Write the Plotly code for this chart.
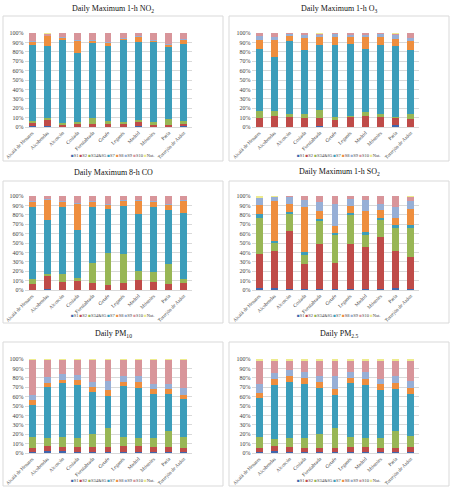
import plotly.graph_objects as go

# ---------------- data ----------------
CITIES = ["Alcalá de Henares", "Alcobendas", "Alcorcón", "Coslada", "Fuenlabrada",
          "Getafe", "Leganés", "Madrid", "Móstoles", "Parla", "Torrejón de Ardoz"]
SERIES = ["S1", "S2", "S34&S5", "S7", "S8", "S9", "S10", "Nat."]
COLORS = ["#3F66AE", "#BF4B48", "#98B655", "#3C9DBA", "#EE8E3E", "#97AFD6", "#D8959A", "#EDEB8E"]
TITLES = ["Daily Maximum 1-h NO<sub>2</sub>", "Daily Maximum 1-h O<sub>3</sub>",
          "Daily Maximum 8-h CO", "Daily Maximum 1-h SO<sub>2</sub>",
          "Daily PM<sub>10</sub>", "Daily PM<sub>2.5</sub>"]
Y_TICKS = [0, 10, 20, 30, 40, 50, 60, 70, 80, 90, 100]

# NO2
NO2_S1 = [1, 1.5, 0.5, 0.5, 0.5, 0.5, 0.5, 1, 0.5, 0.5, 1]
NO2_S2 = [3, 5.5, 2.5, 3, 2.5, 2.5, 2.5, 4.5, 2.5, 2, 3]
NO2_S345 = [2.5, 2.5, 1.5, 2, 6.5, 3, 2.5, 1.5, 2, 5.5, 2]
NO2_S7 = [80.5, 76.5, 89, 73.5, 80.5, 80, 88, 83.5, 86, 78, 82.5]
NO2_S8 = [4, 11, 1.5, 13, 2, 4, 1, 5.5, 1.5, 2, 5]
NO2_S9 = [1, 0.5, 0.5, 0.5, 0.5, 0.5, 0.5, 0.5, 0.5, 0.5, 0.5]
NO2_S10 = [8, 1.5, 4.5, 7.5, 7.5, 9.5, 5, 3.5, 7, 11.5, 6]
NO2_NAT = [0, 1, 0, 0, 0, 0, 0, 0, 0, 0, 0]

# O3
O3_S1 = [0.5, 0.5, 0.5, 0.5, 1.5, 0.5, 0.5, 0.5, 0.5, 2, 0.5]
O3_S2 = [9, 11.5, 10, 9.5, 8, 8, 11, 11, 10.5, 8, 8.5]
O3_S345 = [8, 5, 3, 4, 8.5, 2, 0.5, 4, 3, 1, 5]
O3_S7 = [65.5, 58, 77.5, 68, 69.5, 76.5, 76, 67.5, 73, 75, 68]
O3_S8 = [10, 18, 6, 13, 8.5, 9, 8, 13, 9, 8, 10]
O3_S9 = [4, 3, 2, 3, 2, 3, 2, 2.5, 3, 4, 3]
O3_S10 = [3, 4, 1, 2, 1.5, 1, 2, 1.5, 1, 1, 5]
O3_NAT = [0, 0, 0, 0, 0.5, 0, 0, 0, 0, 1, 0]

# CO
CO_S1 = [0.5, 1.5, 0.5, 0.5, 0.5, 0.5, 0.5, 0.5, 0.5, 0.5, 0.5]
CO_S2 = [6, 13.5, 8, 9.5, 7, 5, 6.5, 10, 8, 6, 6.5]
CO_S345 = [5.5, 2, 8.5, 3, 21.5, 33.5, 31, 9.5, 11, 21.5, 5]
CO_S7 = [76, 57.5, 71.5, 51, 59, 47, 51, 60.5, 69, 57.5, 70]
CO_S8 = [6, 21.5, 5.5, 28, 6, 5, 6, 14.5, 5.5, 5.5, 13]
CO_S9 = [1, 1, 1, 1, 1, 1, 1, 1, 1, 1, 1]
CO_S10 = [5, 3, 5, 7, 5, 8, 4, 4, 5, 8, 4]
CO_NAT = [0, 0, 0, 0, 0, 0, 0, 0, 0, 0, 0]

# SO2
SO2_S1 = [2, 2, 1.5, 1.5, 1.5, 1.5, 1.5, 1.5, 1.5, 2, 1.5]
SO2_S2 = [36, 39, 61.5, 26.5, 47.5, 27.5, 47.5, 44.5, 54.5, 40, 34]
SO2_S345 = [39, 10, 17.5, 10, 24, 29, 31, 13, 18.5, 24, 30.5]
SO2_S7 = [4, 1.5, 3, 2, 3, 3, 2, 3, 2.5, 3, 3.5]
SO2_S8 = [9, 42.5, 7.5, 48, 8, 7, 7, 22, 8, 8, 16.5]
SO2_S9 = [8, 4, 8, 8, 10, 23, 8, 12, 7, 11, 9]
SO2_S10 = [0, 0.5, 1, 4, 6, 9, 3, 4, 8, 12, 4]
SO2_NAT = [2, 0.5, 0, 0, 0, 0, 0, 0, 0, 0, 1]

# PM10
PM10_S1 = [1.5, 2, 2, 1.5, 1.5, 1.5, 1.5, 1.5, 1.5, 1.5, 1.5]
PM10_S2 = [4, 5, 4.5, 4.5, 5, 4.5, 5.5, 5.5, 4.5, 5, 4]
PM10_S345 = [12, 8.5, 10, 10, 14, 21, 10, 8.5, 10, 16.5, 11.5]
PM10_S7 = [33.5, 54.5, 57.5, 56, 44.5, 34, 54.5, 54, 47, 40, 40.5]
PM10_S8 = [5, 5, 4, 6, 5, 6, 4.5, 6.5, 5, 5, 4.5]
PM10_S9 = [6, 6, 6, 5, 6, 10, 6, 6, 5, 5, 7]
PM10_S10 = [37, 18, 15, 16, 23, 22, 17, 17, 26, 26, 30]
PM10_NAT = [1, 1, 1, 1, 1, 1, 1, 1, 1, 1, 1]

# PM2.5
PM25_S1 = [1.5, 2, 1.5, 1.5, 1.5, 1.5, 1.5, 1.5, 1.5, 1.5, 1.5]
PM25_S2 = [3.5, 5, 4.5, 4, 4, 4, 4.5, 5, 3.5, 3.5, 4.5]
PM25_S345 = [12.5, 8, 10, 10, 15, 21.5, 11.5, 9, 11, 18, 12]
PM25_S7 = [40.5, 57, 60, 58, 49, 35, 57, 56.5, 51, 45, 45]
PM25_S8 = [6, 6.5, 5.5, 6.5, 6.5, 6.5, 5.5, 6.5, 6, 7, 6]
PM25_S9 = [9, 6.5, 6.5, 6, 6, 13.5, 6, 7.5, 6, 6.5, 8]
PM25_S10 = [25.5, 13.5, 10.5, 12.5, 16.5, 16.5, 12.5, 12.5, 19.5, 17, 21.5]
PM25_NAT = [1.5, 1.5, 1.5, 1.5, 1.5, 1.5, 1.5, 1.5, 1.5, 1.5, 1.5]

PANEL_DATA = [
    [NO2_S1, NO2_S2, NO2_S345, NO2_S7, NO2_S8, NO2_S9, NO2_S10, NO2_NAT],
    [O3_S1, O3_S2, O3_S345, O3_S7, O3_S8, O3_S9, O3_S10, O3_NAT],
    [CO_S1, CO_S2, CO_S345, CO_S7, CO_S8, CO_S9, CO_S10, CO_NAT],
    [SO2_S1, SO2_S2, SO2_S345, SO2_S7, SO2_S8, SO2_S9, SO2_S10, SO2_NAT],
    [PM10_S1, PM10_S2, PM10_S345, PM10_S7, PM10_S8, PM10_S9, PM10_S10, PM10_NAT],
    [PM25_S1, PM25_S2, PM25_S345, PM25_S7, PM25_S8, PM25_S9, PM25_S10, PM25_NAT],
]

# ---------------- layout helpers ----------------
W, H = 453, 488
FONT = "Liberation Serif, Times New Roman, serif"


def fx(p):
    return p / W


def fy(p):
    return 1 - p / H


COL_PLOT = [(24.5, 191.5), (251.5, 418.5)]
ROW_PLOT = [(33, 127), (196, 290), (359, 453)]
COL_BOX = [(3, 223), (229, 449)]
ROW_BOX = [(16, 161), (181, 323), (342, 486)]
ROW_TITLE = [9, 172, 334]
ROW_LEGEND = [155, 315, 480]

fig = go.Figure()
layout = dict(
    width=W, height=H,
    margin=dict(l=0, r=0, t=0, b=0),
    paper_bgcolor="white", plot_bgcolor="white",
    barmode="stack", barnorm="percent", bargap=0.55,
    showlegend=False,
    font=dict(family=FONT, color="#595959"),
)
shapes = []
annotations = []

legend_text = " ".join(
    f"<span style='color:{c}'>■</span>{s}" for s, c in zip(SERIES, COLORS)
)

for i, series in enumerate(PANEL_DATA):
    col, row = i % 2, i // 2
    k = i + 1
    xa = "x" if k == 1 else f"x{k}"
    ya = "y" if k == 1 else f"y{k}"
    for name, color, vals in zip(SERIES, COLORS, series):
        fig.add_trace(go.Bar(
            x=CITIES, y=vals, name=name, marker_color=color,
            marker_line_width=0, xaxis=xa, yaxis=ya, showlegend=False,
        ))
    x0, x1 = COL_PLOT[col]
    y0, y1 = ROW_PLOT[row]
    layout["xaxis" if k == 1 else f"xaxis{k}"] = dict(
        domain=[fx(x0), fx(x1)], anchor=ya, tickangle=-45,
        tickfont=dict(size=5, family=FONT, color="#404040"),
        showline=True, linecolor="#D9D9D9", linewidth=1, ticks="",
        automargin=False, fixedrange=True,
    )
    layout["yaxis" if k == 1 else f"yaxis{k}"] = dict(
        domain=[fy(y1), fy(y0)], anchor=xa, range=[0, 100],
        tickvals=Y_TICKS, ticktext=[f"{v}%" for v in Y_TICKS],
        tickfont=dict(size=6, family=FONT, color="#404040"),
        showgrid=True, gridcolor="#D9D9D9", gridwidth=0.8,
        zeroline=False, showline=False, ticks="",
        automargin=False, fixedrange=True,
    )
    bx0, bx1 = COL_BOX[col]
    by0, by1 = ROW_BOX[row]
    shapes.append(dict(type="rect", xref="paper", yref="paper",
                       x0=fx(bx0), x1=fx(bx1), y0=fy(by1), y1=fy(by0),
                       line=dict(color="#D9D9D9", width=1), fillcolor="rgba(0,0,0,0)"))
    annotations.append(dict(
        text=TITLES[i], xref="paper", yref="paper",
        x=fx((bx0 + bx1) / 2), y=fy(ROW_TITLE[row]),
        xanchor="center", yanchor="middle", showarrow=False,
        font=dict(size=8, family=FONT, color="#111111"),
    ))
    annotations.append(dict(
        text=legend_text, xref="paper", yref="paper",
        x=fx((bx0 + bx1) / 2 - 1), y=fy(ROW_LEGEND[row]),
        xanchor="center", yanchor="middle", showarrow=False,
        font=dict(size=4.5, family=FONT, color="#404040"),
    ))

layout["shapes"] = shapes
layout["annotations"] = annotations
fig.update_layout(**layout)
fig.write_html("out.html")
